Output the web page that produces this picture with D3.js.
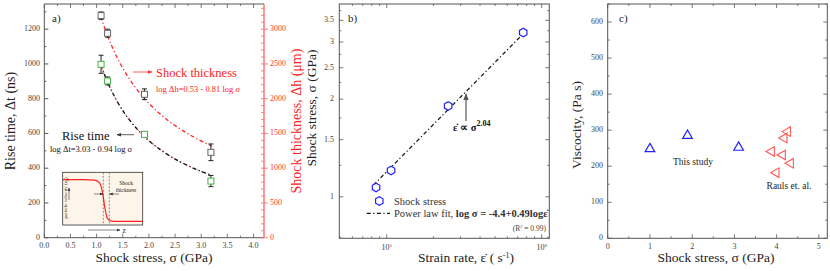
<!DOCTYPE html>
<html lang="en">
<head>
<meta charset="UTF-8" />
<title>Shock rise time, strain rate and viscosity</title>
<script src="https://cdn.jsdelivr.net/npm/d3@7"></script>
<style>
  body { margin: 0; background: #fff; }
</style>
</head>
<body>
<div id="chart"></div>
<script>
// ---- panel a data ----
const stressA = [1.085, 1.21, 1.915, 3.185];
const riseTime = [998, 902, 595, 326];          // ns
const riseErr = [52, 23, 8, 32];
const thickStress = [1.085, 1.21, 1.915, 3.185];
const thickness = [3195, 2942, 2064, 1229];     // um
const thickErr = [53, 58, 77, 120];
// fits written on the chart: log y = a + b log sigma
const riseFit = [3.03, -0.94];                  // ns
const thickFit = [0.53, -0.81];                 // mm
const fitRange = [1.08, 3.2];
// inset sketch (relative units)
const insetZ = [0, 0.25, 0.4, 0.46, 0.5, 0.53, 0.56, 0.6, 0.68, 1];
const insetU = [0.86, 0.86, 0.85, 0.8, 0.6, 0.3, 0.12, 0.08, 0.07, 0.07];

// ---- panel b data ----
const strainRate = [8.53e4, 1.066e5, 2.49e5, 7.6e5];
const stressB = [1.069, 1.206, 1.906, 3.21];
const fitRate = [8.2e4, 7.45e5];
const fitStress = [1.087, 3.15];

// ---- panel c data ----
const studyStress = [1.0, 1.89, 3.1];
const studyVisc = [248, 285, 252];
const raulsStress = [3.88, 3.99, 4.14, 4.18, 4.26, 4.33];
const raulsVisc = [241, 182, 231, 278, 296, 208];

const W = 830, H = 271;
const FONT = "Liberation Serif";
const svg = d3.select("#chart").append("svg")
  .attr("width", W).attr("height", H)
  .attr("font-family", FONT);

const axisCol = "#555", tickTxt = "#444";

function frame(x0, x1, y0, y1, col) {
  svg.append("rect").attr("x", x0).attr("y", y0)
    .attr("width", x1 - x0).attr("height", y1 - y0)
    .attr("fill", "none").attr("stroke", col || axisCol).attr("stroke-width", 1);
}

// inward ticks on both opposite sides
function xTicks(x, vals, y0, y1, len) {
  vals.forEach(v => {
    svg.append("line").attr("x1", x(v)).attr("x2", x(v))
      .attr("y1", y1).attr("y2", y1 - len).attr("stroke", axisCol).attr("stroke-width", 0.8);
    svg.append("line").attr("x1", x(v)).attr("x2", x(v))
      .attr("y1", y0).attr("y2", y0 + len).attr("stroke", axisCol).attr("stroke-width", 0.8);
  });
}
function yTicks(y, vals, x0, x1, len) {
  vals.forEach(v => {
    svg.append("line").attr("x1", x0).attr("x2", x0 + len)
      .attr("y1", y(v)).attr("y2", y(v)).attr("stroke", axisCol).attr("stroke-width", 0.8);
    svg.append("line").attr("x1", x1).attr("x2", x1 - len)
      .attr("y1", y(v)).attr("y2", y(v)).attr("stroke", axisCol).attr("stroke-width", 0.8);
  });
}
function label(x, y, txt, opt) {
  opt = opt || {};
  const t = svg.append("text").attr("x", x).attr("y", y)
    .attr("font-family", FONT)
    .attr("font-size", opt.size || 8)
    .attr("fill", opt.fill || tickTxt)
    .attr("text-anchor", opt.anchor || "middle")
    .attr("dominant-baseline", opt.base || "auto");
  if (opt.rotate) t.attr("transform", `rotate(-90,${x},${y})`);
  if (opt.html) t.html(txt); else t.text(txt);
  return t;
}
function arrowHead(id, col) {
  svg.append("defs").append("marker").attr("id", id)
    .attr("viewBox", "0 0 10 10").attr("refX", 9).attr("refY", 5)
    .attr("markerWidth", 6).attr("markerHeight", 6).attr("orient", "auto")
    .append("path").attr("d", "M0,1 L10,5 L0,9 z").attr("fill", col);
}
arrowHead("ahRed", "#f33");
arrowHead("ahBlk", "#333");
arrowHead("ahGry", "#555");

// ================= panel a =================
const ax = d3.scaleLinear().domain([0, 4.2]).range([44.3, 264]);
const ay = d3.scaleLinear().domain([0, 1345]).range([237.7, 4]);
const ayR = d3.scaleLinear().domain([0, 1345 * 2.5]).range([237.7, 4]);

svg.append("line").attr("x1", 44.3).attr("x2", 264).attr("y1", 4).attr("y2", 4).attr("stroke", axisCol);
svg.append("line").attr("x1", 44.3).attr("x2", 264).attr("y1", 237.7).attr("y2", 237.7).attr("stroke", axisCol);
svg.append("line").attr("x1", 44.3).attr("x2", 44.3).attr("y1", 4).attr("y2", 237.7).attr("stroke", axisCol);
svg.append("line").attr("x1", 264).attr("x2", 264).attr("y1", 4).attr("y2", 237.7).attr("stroke", "#f55").attr("stroke-width", 1.2);

xTicks(ax, d3.range(0, 4.01, 0.5), 4, 237.7, 4);
xTicks(ax, d3.range(0.25, 4.2, 0.5), 4, 237.7, 2);
d3.range(0, 4.01, 0.5).forEach(v => label(ax(v), 248, v.toFixed(1)));
d3.range(0, 1201, 200).forEach(v => {
  svg.append("line").attr("x1", 44.3).attr("x2", 48.3).attr("y1", ay(v)).attr("y2", ay(v)).attr("stroke", axisCol);
  label(40, ay(v), v, { anchor: "end", base: "middle" });
});
d3.range(100, 1345, 200).forEach(v => {
  svg.append("line").attr("x1", 44.3).attr("x2", 46.3).attr("y1", ay(v)).attr("y2", ay(v)).attr("stroke", axisCol);
});
// right red axis
d3.range(0, 3301, 100).forEach(v => {
  const major = v % 500 === 0;
  svg.append("line").attr("x1", major ? 268 : 264).attr("x2", 261)
    .attr("y1", ayR(v)).attr("y2", ayR(v)).attr("stroke", "#f66").attr("stroke-width", 0.8);
  if (major) label(270, ayR(v), v, { anchor: "start", base: "middle", fill: "#f33" });
});

label(12, 121, "Rise time, Δt (ns)", { size: 14, fill: "#222", rotate: true, base: "middle" });
label(154, 262, "Shock stress,  σ (GPa)", { size: 13.5, fill: "#222" });
label(298, 121, "Shock thickness, Δh (μm)", { size: 14, fill: "#f22", rotate: true, base: "middle" });
label(52, 22, "a)", { size: 11, fill: "#222", anchor: "start" });

// fit curves
const fitXs = d3.range(fitRange[0], fitRange[1] + 1e-9, (fitRange[1] - fitRange[0]) / 60);
const lineA = d3.line().x(d => ax(d[0])).y(d => d[1]);
svg.append("path")
  .attr("d", lineA(fitXs.map(s => [s, ayR(1000 * Math.pow(10, thickFit[0] + thickFit[1] * Math.log10(s)))])))
  .attr("fill", "none").attr("stroke", "#f22").attr("stroke-width", 1.3)
  .attr("stroke-dasharray", "4,2.5,1.2,2.5");
svg.append("path")
  .attr("d", lineA(fitXs.map(s => [s, ay(Math.pow(10, riseFit[0] + riseFit[1] * Math.log10(s)))])))
  .attr("fill", "none").attr("stroke", "#f44").attr("stroke-width", 1.2)
  .attr("stroke-dasharray", "1,3");
svg.append("path")
  .attr("d", lineA(fitXs.map(s => [s, ay(Math.pow(10, riseFit[0] + riseFit[1] * Math.log10(s)))])))
  .attr("fill", "none").attr("stroke", "#111").attr("stroke-width", 1.3)
  .attr("stroke-dasharray", "4,2.5,1.2,2.5");

function errBox(x, yc, ylo, yhi, col) {
  svg.append("line").attr("x1", x).attr("x2", x).attr("y1", ylo).attr("y2", yhi).attr("stroke", "#222").attr("stroke-width", 1);
  [ylo, yhi].forEach(yy => svg.append("line").attr("x1", x - 2.5).attr("x2", x + 2.5)
    .attr("y1", yy).attr("y2", yy).attr("stroke", "#222").attr("stroke-width", 1));
  svg.append("rect").attr("x", x - 3).attr("y", yc - 3).attr("width", 6).attr("height", 6)
    .attr("fill", "#fff").attr("stroke", col).attr("stroke-width", 0.9);
}
thickStress.forEach((s, i) => errBox(ax(s), ayR(thickness[i]), ayR(thickness[i] - thickErr[i]), ayR(thickness[i] + thickErr[i]), "#555"));
stressA.forEach((s, i) => errBox(ax(s), ay(riseTime[i]), ay(riseTime[i] - riseErr[i]), ay(riseTime[i] + riseErr[i]), "#3a3"));

// annotations
svg.append("line").attr("x1", 133).attr("x2", 152).attr("y1", 72).attr("y2", 72)
  .attr("stroke", "#f33").attr("stroke-width", 0.8).attr("marker-end", "url(#ahRed)");
label(156, 76.5, "Shock thickness", { size: 12.5, fill: "#f22", anchor: "start" });
label(156, 92, "log Δh=0.53 - 0.81 log σ", { size: 8.5, fill: "#f22", anchor: "start" });
svg.append("line").attr("x1", 134).attr("x2", 117).attr("y1", 134.7).attr("y2", 134.7)
  .attr("stroke", "#333").attr("stroke-width", 0.8).attr("marker-end", "url(#ahBlk)");
label(62, 139.5, "Rise time", { size: 12.5, fill: "#111", anchor: "start" });
label(50, 152, "log Δt=3.03 - 0.94 log σ", { size: 8.5, fill: "#111", anchor: "start" });

// inset
const ix = d3.scaleLinear().domain([0, 1]).range([62.7, 142.7]);
const iy = d3.scaleLinear().domain([0, 1]).range([225, 172.3]);
svg.append("rect").attr("x", 62.7).attr("y", 172.3).attr("width", 80).attr("height", 52.7)
  .attr("fill", "#fdf5ea").attr("stroke", "#333").attr("stroke-width", 0.8);
svg.append("path")
  .attr("d", d3.line().x((d, i) => ix(insetZ[i])).y(d => iy(d)).curve(d3.curveMonotoneX)(insetU))
  .attr("fill", "none").attr("stroke", "#f22").attr("stroke-width", 1.2);
[103.3, 109.3].forEach(xx => svg.append("line").attr("x1", xx).attr("x2", xx)
  .attr("y1", 172.3).attr("y2", 225).attr("stroke", "#444").attr("stroke-width", 0.6)
  .attr("stroke-dasharray", "2,1.5"));
svg.append("line").attr("x1", 94).attr("x2", 103).attr("y1", 194).attr("y2", 194)
  .attr("stroke", "#333").attr("stroke-width", 0.6).attr("marker-end", "url(#ahBlk)");
svg.append("line").attr("x1", 119).attr("x2", 109.6).attr("y1", 194).attr("y2", 194)
  .attr("stroke", "#333").attr("stroke-width", 0.6).attr("marker-end", "url(#ahBlk)");
label(126, 185, "Shock", { size: 5.5, fill: "#222" });
label(126, 192, "thickness", { size: 5.5, fill: "#222" });
label(66, 198, "particle velocity (u<tspan font-size='3.5' dy='1'>p</tspan><tspan dy='-1'>)</tspan>",
  { size: 5, fill: "#222", rotate: true, base: "middle", html: true });
svg.append("line").attr("x1", 69).attr("x2", 69).attr("y1", 200).attr("y2", 188)
  .attr("stroke", "#333").attr("stroke-width", 0.6).attr("marker-end", "url(#ahBlk)");
svg.append("line").attr("x1", 88).attr("x2", 120).attr("y1", 230).attr("y2", 230)
  .attr("stroke", "#333").attr("stroke-width", 0.6).attr("marker-end", "url(#ahBlk)");
label(122.5, 232.5, "z", { size: 7.5, fill: "#222", anchor: "start" });

// ================= panel b =================
const bx = d3.scaleLog().domain([4.94e4, 1.12e6]).range([339.3, 549.3]);
const by = d3.scaleLog().domain([0.745, 3.93]).range([238.3, 4]);
frame(339.3, 549.3, 4, 238.3);
const bxMinor = [6e4, 7e4, 8e4, 9e4, 2e5, 3e5, 4e5, 5e5, 6e5, 7e5, 8e5, 9e5];
xTicks(bx, [1e5, 1e6], 4, 238.3, 4);
xTicks(bx, bxMinor, 4, 238.3, 2);
label(bx(1e5), 250, "10<tspan font-size='5' dy='-3.5'>5</tspan>", { html: true });
label(bx(1e6), 250, "10<tspan font-size='5' dy='-3.5'>6</tspan>", { html: true });
const byMajor = [1, 1.5, 2, 2.5, 3, 3.5];
yTicks(by, byMajor, 339.3, 549.3, 4);
yTicks(by, [0.75, 1.25, 1.75, 2.25, 2.75, 3.25, 3.75], 339.3, 549.3, 2);
byMajor.forEach(v => label(334, by(v), v, { anchor: "end", base: "middle" }));

label(313, 108, "Shock stress, σ (GPa)", { size: 13.5, fill: "#222", rotate: true, base: "middle" });
label(466, 262, "Strain rate, ε̇ ( s<tspan font-size='8' dy='-4'>-1</tspan><tspan dy='4'>)</tspan>",
  { size: 13.5, fill: "#222", html: true });
label(348, 22, "b)", { size: 11, fill: "#222", anchor: "start" });

svg.append("path")
  .attr("d", d3.line().x((d, i) => bx(fitRate[i])).y(d => by(d))(fitStress))
  .attr("fill", "none").attr("stroke", "#111").attr("stroke-width", 1.2)
  .attr("stroke-dasharray", "4,2.5,1.2,2.5");

const hex = d3.symbol().type({
  draw(ctx, size) {
    const r = Math.sqrt(size) / 1.8;
    for (let k = 0; k < 6; k++) {
      const a = Math.PI / 6 + k * Math.PI / 3;
      k ? ctx.lineTo(r * Math.cos(a), r * Math.sin(a)) : ctx.moveTo(r * Math.cos(a), r * Math.sin(a));
    }
    ctx.closePath();
  }
}).size(60);
strainRate.forEach((r, i) => svg.append("path").attr("d", hex)
  .attr("transform", `translate(${bx(r)},${by(stressB[i])})`)
  .attr("fill", "#fff").attr("stroke", "#22f").attr("stroke-width", 1.2));

svg.append("line").attr("x1", 466).attr("x2", 466).attr("y1", 121).attr("y2", 94)
  .attr("stroke", "#555").attr("stroke-width", 1.2).attr("marker-end", "url(#ahGry)");
label(453, 131, "ε̇ ∝ σ<tspan font-size='8' dy='-5'>2.04</tspan>", { size: 10.5, fill: "#111", anchor: "start", html: true })
  .attr("font-weight", "bold");

// legend
svg.append("path").attr("d", hex).attr("transform", "translate(379.3,201)")
  .attr("fill", "#fff").attr("stroke", "#22f").attr("stroke-width", 1.2);
label(394, 204.5, "Shock stress", { size: 10.5, fill: "#333", anchor: "start" });
svg.append("line").attr("x1", 366.7).attr("x2", 390).attr("y1", 213.3).attr("y2", 213.3)
  .attr("stroke", "#111").attr("stroke-width", 1.2).attr("stroke-dasharray", "4,2.5,1.2,2.5");
label(394, 217, "Power law fit, <tspan font-weight='bold'>log σ = -4.4+0.49logε̇</tspan>",
  { size: 10.5, fill: "#333", anchor: "start", html: true });
label(546, 230.5, "(R<tspan font-size='4.5' dy='-3'>2</tspan><tspan dy='3'> = 0.99)</tspan>",
  { size: 7.5, fill: "#444", anchor: "end", html: true });

// ================= panel c =================
const cx = d3.scaleLinear().domain([0, 5.2]).range([607.7, 827.3]);
const cy = d3.scaleLinear().domain([0, 650]).range([238.3, 4]);
frame(607.7, 827.3, 4, 238.3);
xTicks(cx, d3.range(0, 5.01, 1), 4, 238.3, 4);
xTicks(cx, d3.range(0.5, 5.1, 1), 4, 238.3, 2);
d3.range(0, 5.01, 1).forEach(v => label(cx(v), 249, v));
yTicks(cy, d3.range(0, 601, 100), 607.7, 827.3, 4);
yTicks(cy, d3.range(50, 651, 100), 607.7, 827.3, 2);
d3.range(0, 601, 100).forEach(v => label(603, cy(v), v, { anchor: "end", base: "middle" }));

label(578, 125, "Viscocity,  (Pa s)", { size: 13.5, fill: "#222", rotate: true, base: "middle" });
label(716, 262, "Shock stress, σ (GPa)", { size: 13.5, fill: "#222" });
label(619, 22, "c)", { size: 11, fill: "#222", anchor: "start" });

const tri = d3.symbol().type(d3.symbolTriangle).size(40);
studyStress.forEach((s, i) => svg.append("path").attr("d", tri)
  .attr("transform", `translate(${cx(s)},${cy(studyVisc[i])})`)
  .attr("fill", "none").attr("stroke", "#22f").attr("stroke-width", 1.2));
raulsStress.forEach((s, i) => svg.append("path").attr("d", tri)
  .attr("transform", `translate(${cx(s)},${cy(raulsVisc[i])}) rotate(-90)`)
  .attr("fill", "none").attr("stroke", "#f55").attr("stroke-width", 1.1));
label(693, 164.5, "This study", { size: 9.5, fill: "#222" });
label(789, 189, "Rauls et. al.", { size: 9.5, fill: "#222" });
</script>
</body>
</html>
